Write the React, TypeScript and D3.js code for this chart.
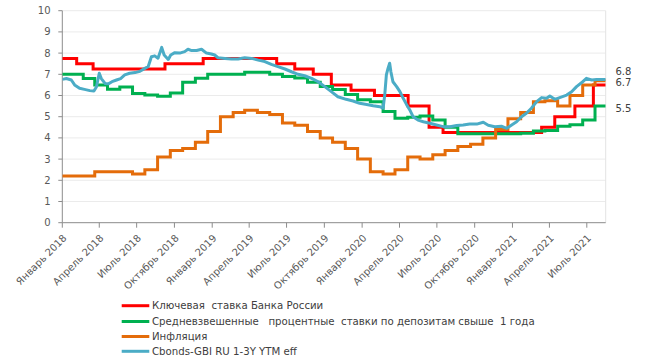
import React from 'react';
import * as d3 from 'd3';

const W = 645;
const H = 363;

// ---------- data ----------
const yTicks = [0, 1, 2, 3, 4, 5, 6, 7, 8, 9, 10];

const xTickDates = [
  '2018-01-01', '2018-04-01', '2018-07-01', '2018-10-01',
  '2019-01-01', '2019-04-01', '2019-07-01', '2019-10-01',
  '2020-01-01', '2020-04-01', '2020-07-01', '2020-10-01',
  '2021-01-01', '2021-04-01', '2021-07-01',
];
const xTickLabels = [
  'Январь 2018', 'Апрель 2018', 'Июль 2018', 'Октябрь 2018',
  'Январь 2019', 'Апрель 2019', 'Июль 2019', 'Октябрь 2019',
  'Январь 2020', 'Апрель 2020', 'Июль 2020', 'Октябрь 2020',
  'Январь 2021', 'Апрель 2021', 'Июль 2021',
];

const domainStart = '2018-01-01';
const domainEnd = '2021-08-16';

// Key rate of the Bank of Russia (step changes)
const keyRateDates = [
  '2018-01-01', '2018-02-05', '2018-03-17', '2018-09-08', '2018-12-10',
  '2019-06-07', '2019-07-21', '2019-09-04', '2019-10-18', '2019-12-05',
  '2020-01-31', '2020-04-22', '2020-06-12', '2020-07-16',
  '2021-03-13', '2021-04-14', '2021-06-02', '2021-07-17',
];
const keyRateValues = [
  7.75, 7.5, 7.25, 7.5, 7.75,
  7.5, 7.25, 7.0, 6.5, 6.25,
  6.0, 5.5, 4.5, 4.25,
  4.5, 5.0, 5.5, 6.5,
];

// Monthly series (Jan 2018 .. Jul 2021)
const months = [
  '2018-01', '2018-02', '2018-03', '2018-04', '2018-05', '2018-06', '2018-07', '2018-08', '2018-09', '2018-10', '2018-11', '2018-12',
  '2019-01', '2019-02', '2019-03', '2019-04', '2019-05', '2019-06', '2019-07', '2019-08', '2019-09', '2019-10', '2019-11', '2019-12',
  '2020-01', '2020-02', '2020-03', '2020-04', '2020-05', '2020-06', '2020-07', '2020-08', '2020-09', '2020-10', '2020-11', '2020-12',
  '2021-01', '2021-02', '2021-03', '2021-04', '2021-05', '2021-06', '2021-07',
];
const depositValues = [
  7.0, 6.8, 6.5, 6.3, 6.4, 6.1, 6.02, 5.97, 6.12, 6.62, 6.81, 7.0,
  7.0, 7.0, 7.1, 7.1, 7.0, 6.9, 6.82, 6.63, 6.42, 6.28, 6.05, 5.8,
  5.7, 5.25, 4.93, 4.97, 5.03, 4.85, 4.5, 4.2, 4.2, 4.2, 4.2, 4.2,
  4.22, 4.32, 4.35, 4.55, 4.62, 4.85, 5.5,
];
const inflationValues = [
  2.2, 2.2, 2.4, 2.4, 2.4, 2.3, 2.5, 3.1, 3.4, 3.5, 3.8, 4.3,
  5.0, 5.2, 5.3, 5.2, 5.1, 4.7, 4.6, 4.3, 4.0, 3.8, 3.5, 3.0,
  2.4, 2.3, 2.5, 3.1, 3.0, 3.2, 3.4, 3.6, 3.7, 4.0, 4.4, 4.9,
  5.2, 5.7, 5.75, 5.5, 6.0, 6.5, 6.7,
];
const monthlyStepDay = 21;

// Cbonds-GBI RU 1-3Y YTM eff
const cbondsDates = [
  '2018-01-01', '2018-01-11', '2018-01-23', '2018-01-31', '2018-02-12', '2018-02-24', '2018-03-09', '2018-03-19',
  '2018-03-25', '2018-04-01', '2018-04-06', '2018-04-15', '2018-04-23', '2018-05-02', '2018-05-13', '2018-05-23',
  '2018-06-02', '2018-06-14', '2018-06-27', '2018-07-09', '2018-07-21', '2018-07-29', '2018-08-06', '2018-08-14',
  '2018-08-22', '2018-08-31', '2018-09-06', '2018-09-16', '2018-09-22', '2018-10-02', '2018-10-14', '2018-10-26',
  '2018-11-03', '2018-11-12', '2018-11-24', '2018-12-06', '2018-12-18', '2018-12-30', '2019-01-07', '2019-01-15',
  '2019-02-01', '2019-02-17', '2019-03-05', '2019-03-21', '2019-04-07', '2019-04-23', '2019-05-09', '2019-05-25',
  '2019-06-10', '2019-06-27', '2019-07-13', '2019-07-29', '2019-08-14', '2019-08-31', '2019-09-16', '2019-10-02',
  '2019-10-18', '2019-11-03', '2019-11-23', '2019-12-10', '2019-12-26', '2020-01-12', '2020-01-28', '2020-02-13',
  '2020-02-21', '2020-02-25', '2020-02-29', '2020-03-04', '2020-03-08', '2020-03-11', '2020-03-16', '2020-03-25',
  '2020-04-02', '2020-04-10', '2020-04-18', '2020-04-26', '2020-05-04', '2020-05-16', '2020-05-29', '2020-06-14',
  '2020-06-30', '2020-07-16', '2020-08-02', '2020-08-18', '2020-09-03', '2020-09-19', '2020-10-06', '2020-10-22',
  '2020-11-03', '2020-11-19', '2020-12-05', '2020-12-18', '2020-12-30', '2021-01-11', '2021-01-23', '2021-02-04',
  '2021-02-16', '2021-03-01', '2021-03-13', '2021-03-25', '2021-04-02', '2021-04-14', '2021-04-26', '2021-05-13',
  '2021-05-25', '2021-06-06', '2021-06-18', '2021-06-30', '2021-07-13', '2021-07-25', '2021-08-10', '2021-08-16',
];
const cbondsValues = [
  6.76, 6.8, 6.73, 6.5, 6.34, 6.29, 6.23, 6.21,
  6.4, 7.05, 6.8, 6.57, 6.55, 6.65, 6.73, 6.8,
  6.97, 7.05, 7.08, 7.14, 7.28, 7.36, 7.83, 7.87,
  7.76, 8.27, 7.91, 7.7, 7.91, 8.02, 8.0, 8.07,
  8.18, 8.12, 8.12, 8.18, 8.0, 7.96, 7.91, 7.78,
  7.75, 7.72, 7.72, 7.78, 7.75, 7.67, 7.6, 7.47,
  7.36, 7.25, 7.12, 7.0, 6.93, 6.81, 6.65, 6.42,
  6.18, 5.94, 5.82, 5.74, 5.63, 5.58, 5.52, 5.47,
  5.4, 6.02, 6.97, 7.28, 7.52, 7.12, 6.65, 6.42,
  6.18, 5.87, 5.58, 5.32, 5.0, 4.84, 4.76, 4.69,
  4.61, 4.53, 4.53, 4.58, 4.61, 4.66, 4.65, 4.74,
  4.6, 4.53, 4.55, 4.45, 4.61, 4.76, 5.0, 5.16,
  5.4, 5.71, 5.9, 5.87, 5.98, 5.82, 5.9, 6.02,
  6.18, 6.42, 6.6, 6.81, 6.73, 6.76, 6.76, 6.75,
];

const seriesNames = [
  'Ключевая  ставка Банка России',
  'Средневзвешенные   процентные  ставки по депозитам свыше  1 года',
  'Инфляция',
  'Cbonds-GBI RU 1-3Y YTM eff',
];
const seriesColors = ['#FF0000', '#00B050', '#E46C0A', '#4BACC6'];

const endLabelTexts = ['6.8', '6.7', '5.5'];
const endLabelValues = [6.8, 6.7, 5.5];
const endLabelShift = [-7, 1.5, 2];

// ---------- helpers ----------
type Pt = { d: Date; v: number };
const parse = d3.timeParse('%Y-%m-%d');
const parseMonth = d3.timeParse('%Y-%m');

function zipDates(dates: string[], values: number[]): Pt[] {
  return dates.map((s, i) => ({ d: parse(s) as Date, v: values[i] }));
}
function monthlySteps(values: number[], start: Date, end: Date): Pt[] {
  const pts = months.map((m, i) => {
    const md = parseMonth(m) as Date;
    const d = i === 0 ? start : new Date(md.getFullYear(), md.getMonth(), monthlyStepDay);
    return { d, v: values[i] };
  });
  pts.push({ d: end, v: values[values.length - 1] });
  return pts;
}

export default function App() {
  const x0 = 62.3, x1 = 605.7, yTop = 10.7, yBottom = 222.7;
  const start = parse(domainStart) as Date;
  const end = parse(domainEnd) as Date;

  const x = d3.scaleTime().domain([start, end]).range([x0, x1]);
  const y = d3.scaleLinear().domain([0, 10]).range([yBottom, yTop]);

  const stepLine = d3.line<Pt>().x(p => x(p.d)).y(p => y(p.v)).curve(d3.curveStepAfter);
  const plainLine = d3.line<Pt>().x(p => x(p.d)).y(p => y(p.v));

  const keyRate = zipDates(keyRateDates, keyRateValues);
  keyRate.push({ d: end, v: keyRateValues[keyRateValues.length - 1] });
  const deposit = monthlySteps(depositValues, start, end);
  const inflation = monthlySteps(inflationValues, start, end);
  const cbonds = zipDates(cbondsDates, cbondsValues);

  const paths = [
    stepLine(keyRate),
    stepLine(deposit),
    stepLine(inflation),
    plainLine(cbonds),
  ];

  const font = 'DejaVu Sans, Verdana, sans-serif';
  const axisColor = '#8C8C8C';
  const gridColor = '#EBEBEB';
  const textColor = '#404040';

  const legendY = [305.7, 321.5, 336.5, 351.3];

  return (
    <svg width={W} height={H} style={{ position: 'absolute', left: 0, top: 0, background: '#fff' }}
      fontFamily={font}>
      <rect x={0} y={0} width={W} height={H} fill="#fff" />
      <defs>
        <clipPath id="plotClip">
          <rect x={x0} y={0} width={x1 - x0} height={yBottom + 5} />
        </clipPath>
      </defs>
      {/* gridlines */}
      {yTicks.filter(t => t > 0).map(t => (
        <line key={'g' + t} x1={x0} x2={x1} y1={y(t)} y2={y(t)} stroke={gridColor} strokeWidth={1} />
      ))}
      <line x1={x1} x2={x1} y1={yTop} y2={yBottom} stroke="#E3E3E3" strokeWidth={1} />
      {/* y axis */}
      <line x1={x0} x2={x0} y1={yTop} y2={yBottom} stroke={axisColor} strokeWidth={1} />
      {yTicks.map(t => (
        <g key={'y' + t}>
          <line x1={x0 - 4} x2={x0} y1={y(t)} y2={y(t)} stroke={axisColor} strokeWidth={1} />
          <text x={50.5} y={y(t)} dy="0.35em" textAnchor="end" fontSize={10} fill="#595959">{t}</text>
        </g>
      ))}
      {/* x axis */}
      <line x1={x0} x2={x1} y1={yBottom} y2={yBottom} stroke={axisColor} strokeWidth={1} />
      {xTickDates.map((s, i) => {
        const xd = x(parse(s) as Date);
        return (
          <g key={'x' + s}>
            <line x1={xd} x2={xd} y1={yBottom} y2={yBottom + 5} stroke={axisColor} strokeWidth={1} />
            <text transform={`translate(${xd + 5},${yBottom + 16}) rotate(-45)`} textAnchor="end"
              fontSize={10} fill="#595959">{xTickLabels[i]}</text>
          </g>
        );
      })}
      {/* series */}
      <g clipPath="url(#plotClip)">
        {paths.map((p, i) => (
          <path key={'s' + i} d={p || ''} fill="none" stroke={seriesColors[i]} strokeWidth={3}
            strokeLinejoin={i === 3 ? 'round' : 'miter'} />
        ))}
      </g>
      {/* end labels */}
      {endLabelTexts.map((t, i) => (
        <text key={'e' + i} x={615.5} y={y(endLabelValues[i]) + endLabelShift[i]} dy="0.35em"
          fontSize={10} fill={textColor}>{t}</text>
      ))}
      {/* legend */}
      {seriesNames.map((n, i) => (
        <g key={'l' + i}>
          <line x1={121.7} x2={149.3} y1={legendY[i]} y2={legendY[i]} stroke={seriesColors[i]} strokeWidth={3} />
          <text x={152} y={legendY[i]} dy="0.35em" fontSize={10.2} fill={textColor}
            style={{ whiteSpace: 'pre' }}>{n}</text>
        </g>
      ))}
    </svg>
  );
}
